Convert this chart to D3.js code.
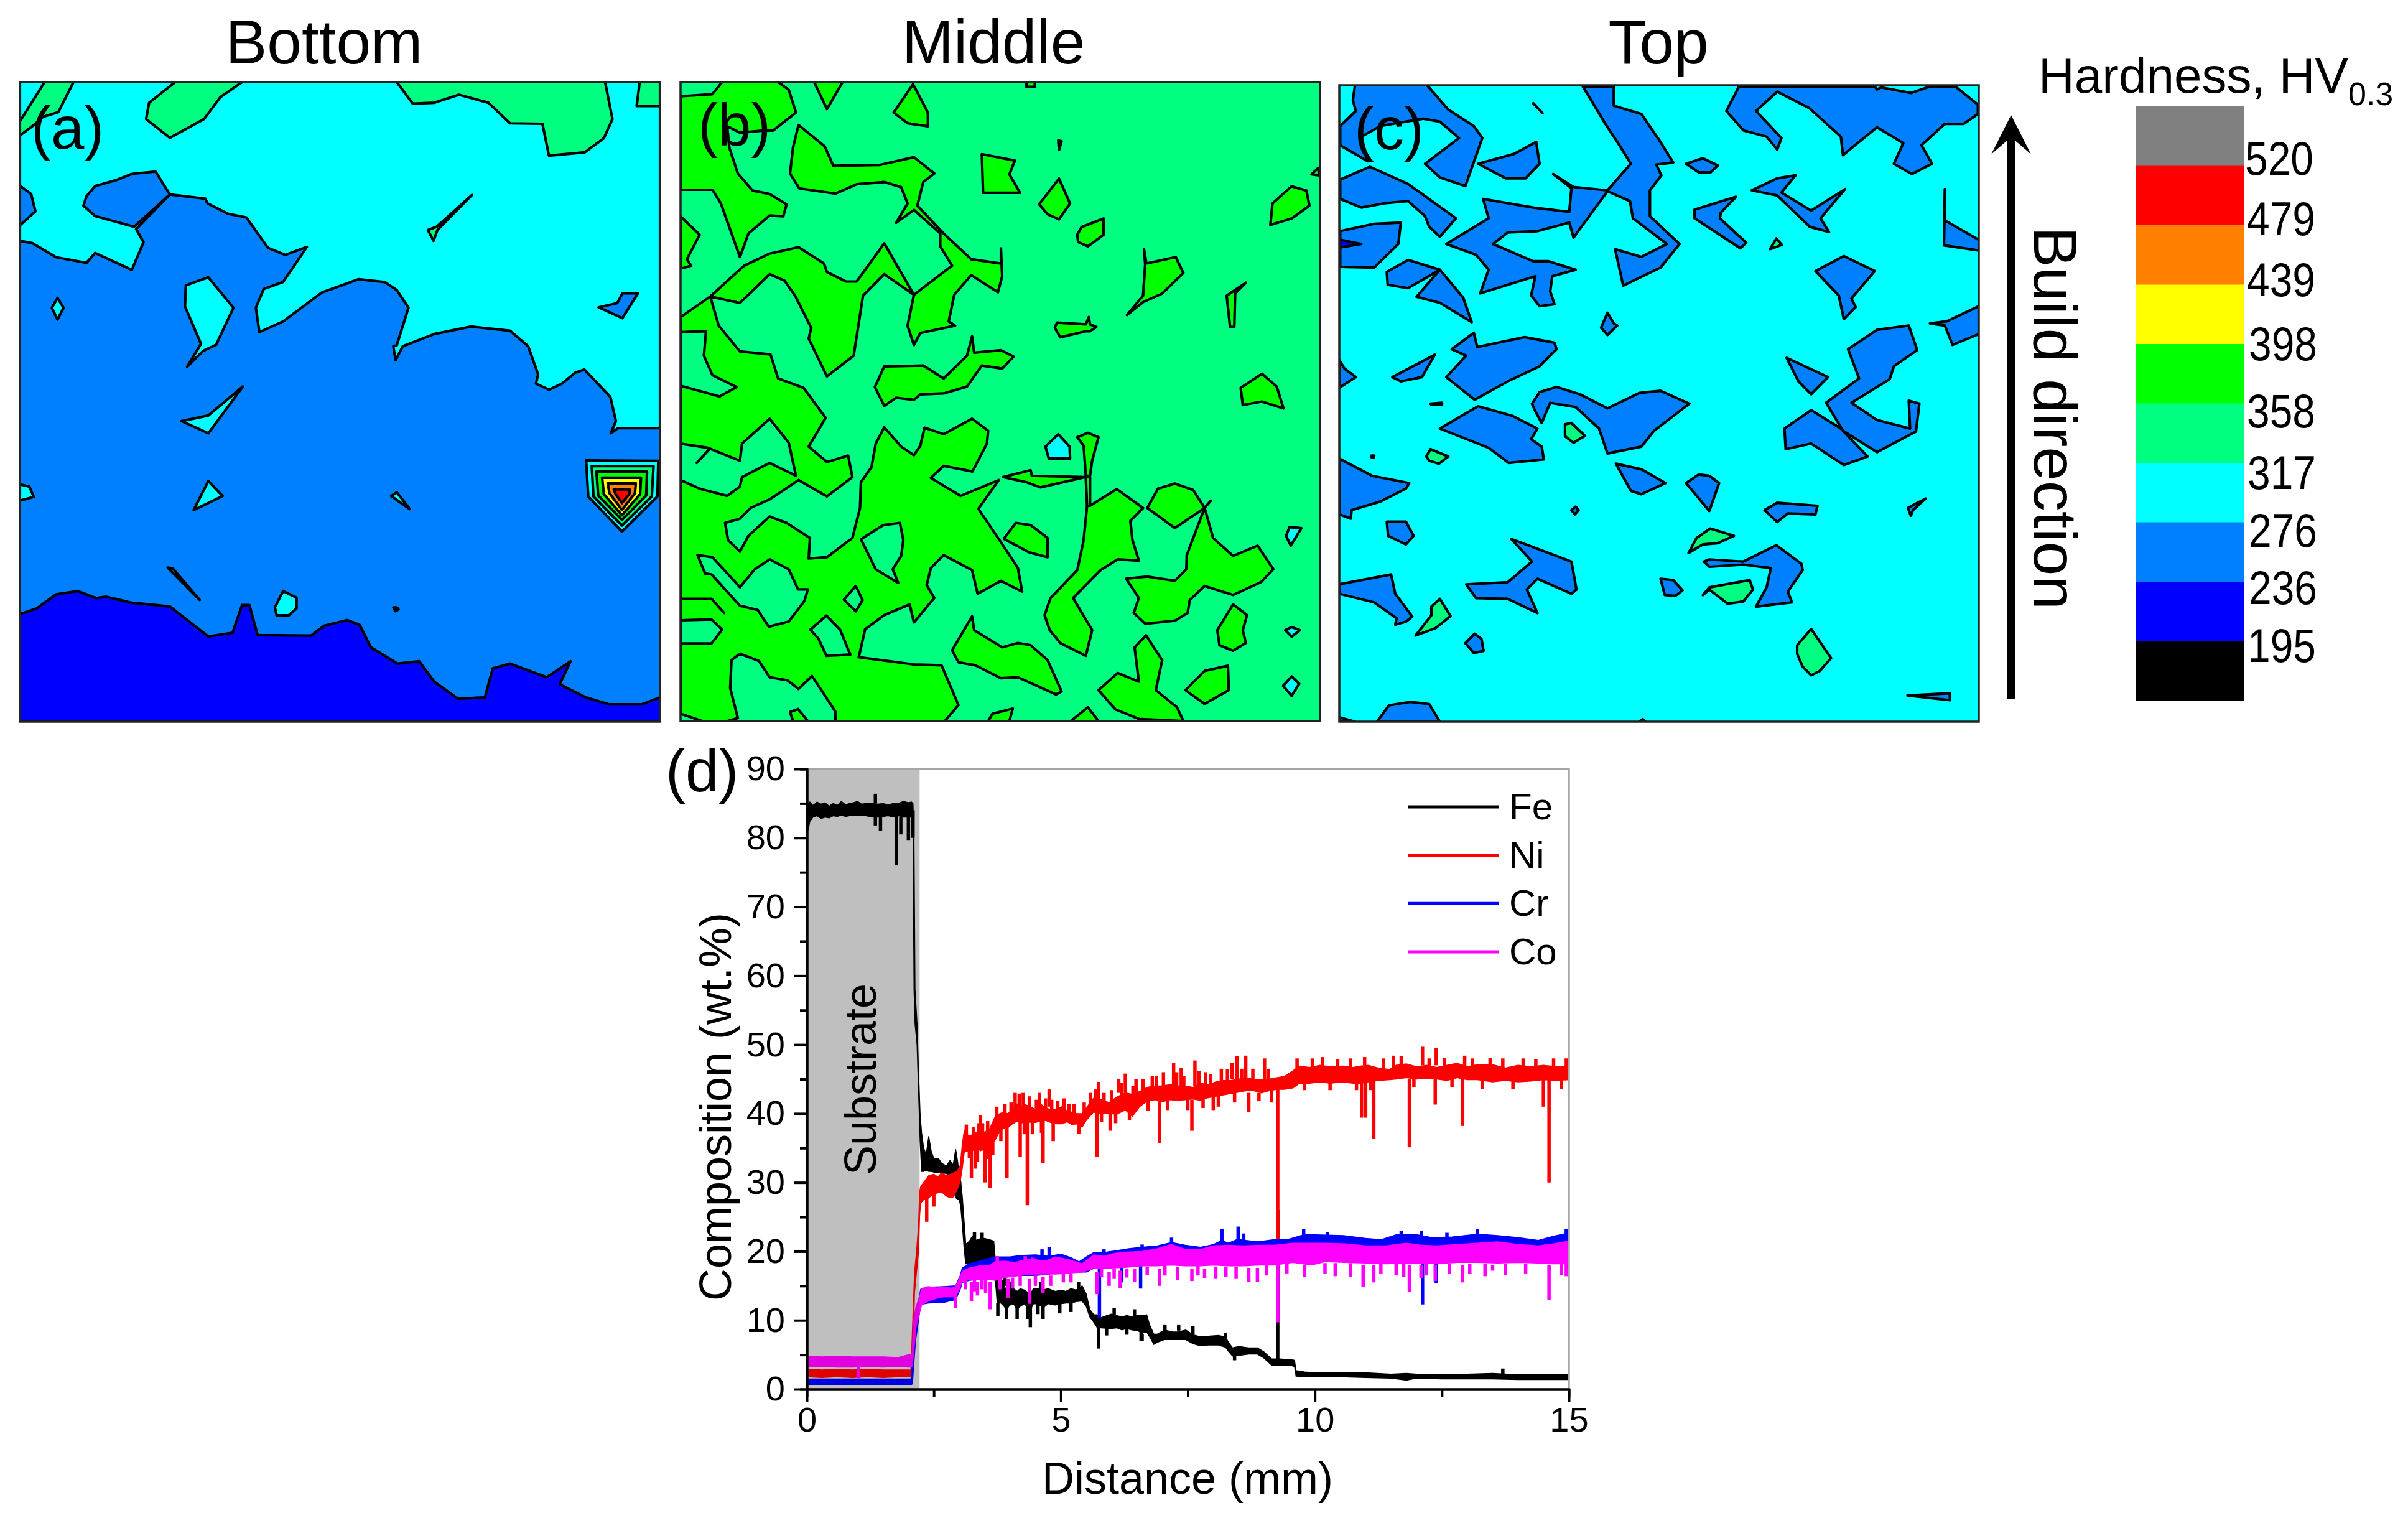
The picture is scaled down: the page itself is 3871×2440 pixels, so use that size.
<!DOCTYPE html>
<html>
<head>
<meta charset="utf-8">
<script src="https://d3js.org/d3.v7.min.js"></script>
<style>
  body { margin: 0; background: #fff; }
  svg { filter: blur(0.7px); }
  text { font-family: "Liberation Sans", Arial, sans-serif; fill: #000; }
</style>
</head>
<body>
<svg width="3871" height="2440"></svg>
<script>
// hardness colour bar
let hardnessLabels = [520, 479, 439, 398, 358, 317, 276, 236, 195];
let hardnessColors = ["#000000", "#0000ff", "#0080ff", "#00ffff", "#00ff80", "#00ff00", "#ffff00", "#ff8000", "#ff0000", "#808080"];

let bottomGridX = [46, 1527], bottomGridY = [176, 1542];
let bottomBase = 236;
let bottomRegions = [
    [276, [[46,515],[75,520],[130,550],[200,562],[220,541],[305,577],[332,518],[315,490],[393,416],[475,425],[480,435],[527,457],[570,465],[620,530],[660,545],[710,528],[655,603],[610,618],[592,658],[600,710],[655,687],[745,625],[830,597],[890,603],[918,620],[945,658],[918,738],[910,740],[915,770],[932,740],[1005,714],[1090,698],[1180,707],[1222,740],[1245,800],[1240,820],[1270,833],[1300,820],[1330,797],[1352,790],[1412,848],[1425,900],[1413,926],[1430,915],[1527,915],[1527,176],[46,176]]],
    [236, [[46,397],[72,415],[82,452],[46,482]]],
    [236, [[393,416],[360,367],[305,372],[270,385],[220,398],[200,420],[193,440],[220,462],[310,485]]],
    [236, [[1385,657],[1428,648],[1440,627],[1476,627],[1440,680]]],
    [317, [[1092,417],[1010,485],[990,492],[1003,515],[1012,492]]],
    [317, [[46,260],[103,176],[170,176],[135,240],[100,250],[75,270],[46,290]]],
    [317, [[405,176],[345,220],[338,255],[393,295],[472,255],[510,208],[560,176]]],
    [317, [[918,176],[955,222],[1005,220],[1062,203],[1130,220],[1180,264],[1255,265],[1270,333],[1353,326],[1397,296],[1417,255],[1400,176]]],
    [317, [[1480,176],[1473,227],[1527,227],[1527,176]]],
    [276, [[120,658],[133,637],[147,658],[133,683]]],
    [276, [[430,610],[482,593],[540,658],[500,737],[470,750],[433,784],[465,735],[428,655]]],
    [276, [[562,826],[482,888],[420,900],[482,926]]],
    [276, [[46,1035],[68,1040],[78,1062],[46,1070]]],
    [276, [[482,1028],[515,1060],[448,1090]]],
    [276, [[905,1060],[918,1052],[948,1088]]],
    [276, [[388,1213],[400,1215],[462,1282]]],
    [276, [[655,1263],[686,1277],[686,1300],[668,1315],[640,1315],[636,1298]]],
    [276, [[910,1298],[918,1298],[922,1302],[915,1306]]],
    [195, [[46,1312],[85,1300],[130,1270],[180,1263],[222,1278],[245,1275],[305,1288],[393,1296],[482,1360],[538,1352],[560,1293],[577,1293],[596,1357],[720,1358],[750,1337],[803,1325],[832,1335],[858,1383],[920,1418],[970,1413],[1005,1457],[1060,1493],[1122,1490],[1140,1428],[1180,1418],[1265,1447],[1320,1413],[1295,1462],[1355,1490],[1410,1505],[1485,1505],[1527,1490],[1527,1542],[46,1542]]],
    // the hard spot at the right edge
    [276, [[1356,984],[1523,985],[1521,1061],[1439,1136],[1361,1061]]],
    [317, [[1369,996],[1512,996],[1508,1061],[1439,1123],[1373,1061]]],
    [358, [[1380,1008],[1497,1008],[1495,1059],[1439,1111],[1384,1059]]],
    [398, [[1393,1021],[1483,1021],[1481,1056],[1439,1101],[1397,1056]]],
    [439, [[1406,1033],[1471,1033],[1469,1054],[1439,1090],[1410,1054]]],
    [479, [[1420,1046],[1457,1046],[1456,1056],[1439,1075],[1424,1056]]]
];

let middleGridX = [20, 1527], middleGridY = [47, 1537];
let middleBase = 317;
let middleRegions = [
    [358, [[20,595],[90,547],[170,475],[230,447],[298,432],[358,470],[365,490],[410,512],[435,512],[500,423],[570,543],[500,495],[450,545],[428,685],[365,733],[322,645],[328,620],[290,545],[265,510],[230,495],[160,562],[90,547],[110,615],[160,675],[232,682],[250,738],[310,760],[362,830],[322,897],[365,933],[415,918],[425,968],[365,1013],[298,975],[230,1020],[185,1040],[160,1065],[125,1075],[132,1115],[160,1142],[180,1105],[230,1060],[270,1075],[325,1110],[322,1158],[365,1155],[425,1110],[443,1040],[445,980],[470,945],[480,890],[500,852],[540,897],[570,917],[585,895],[595,853],[640,868],[707,832],[745,860],[742,890],[708,955],[640,942],[610,970],[680,1012],[770,975],[722,1042],[775,1120],[815,1180],[825,1235],[775,1210],[720,1240],[707,1185],[640,1150],[610,1180],[600,1220],[618,1250],[570,1307],[560,1265],[500,1290],[455,1323],[440,1388],[570,1405],[635,1407],[675,1500],[640,1540],[385,1540],[385,1515],[330,1432],[298,1462],[272,1442],[230,1435],[205,1397],[160,1380],[140,1395],[137,1460],[155,1530],[120,1540],[80,1540],[20,1520]]],
    [317, [[20,630],[80,628],[75,685],[95,730],[152,758],[112,780],[20,755]]],
    [317, [[20,890],[85,900],[160,930],[165,890],[230,832],[275,888],[292,965],[230,935],[165,968],[160,990],[130,1012],[65,995],[20,975]]],
    [317, [[58,935],[88,903]]],
    [317, [[60,1150],[95,1155],[160,1225],[195,1183],[230,1160],[275,1183],[297,1230],[320,1230],[312,1257],[275,1305],[228,1317],[202,1278],[160,1268],[93,1195],[78,1193]]],
    [317, [[445,1113],[498,1080],[537,1075],[545,1115],[540,1152],[520,1183],[533,1215],[480,1183]]],
    [317, [[405,1254],[433,1222],[449,1255],[433,1281]]],
    [317, [[326,1324],[364,1291],[396,1324],[420,1382],[364,1385],[345,1345]]],
    [317, [[20,1302],[93,1300],[118,1324],[93,1356],[20,1356]]],
    [358, [[20,1252],[93,1252],[123,1285],[93,1252]]],
    [358, [[278,1516],[297,1509],[320,1537],[285,1537]]],
    [358, [[745,1537],[755,1520],[803,1508],[795,1537]]],
    [358, [[940,1537],[980,1505],[1005,1537]]],
    [358, [[20,80],[95,75],[118,47],[250,47],[275,65],[292,118],[238,160],[215,160],[160,165],[130,150],[135,200],[155,260],[190,300],[230,308],[270,332],[262,360],[230,358],[180,400],[160,455],[115,330],[95,298],[20,298]]],
    [358, [[298,147],[360,197],[380,242],[490,240],[570,222],[618,260],[592,280],[578,335],[640,400],[705,460],[775,470],[775,435],[778,500],[768,537],[705,497],[665,543],[652,605],[667,615],[585,632],[570,660],[555,615],[570,543],[660,475],[632,430],[632,400],[570,345],[528,375],[555,330],[540,292],[500,280],[435,285],[385,307],[300,295],[278,260],[285,200]]],
    [358, [[20,360],[65,403],[35,460],[45,475],[20,482]]],
    [358, [[335,47],[365,110],[402,47]]],
    [358, [[522,118],[568,52],[603,118],[603,150],[555,143]]],
    [358, [[835,47],[855,47],[855,58],[835,58]]],
    [358, [[730,215],[808,230],[795,262],[820,305],[733,305]]],
    [358, [[912,272],[938,330],[912,367],[885,355],[865,332]]],
    [358, [[955,403],[965,385],[1017,365],[1017,403],[980,430],[957,420]]],
    [358, [[910,183],[918,185],[912,205]]],
    [358, [[1410,380],[1415,330],[1460,290],[1495,300],[1502,335],[1460,365]]],
    [358, [[1507,262],[1522,248],[1527,265]]],
    [358, [[1112,436],[1118,470],[1187,455],[1205,492],[1155,540],[1110,560],[1072,590],[1110,545],[1115,472]]],
    [358, [[1307,545],[1352,515],[1327,540],[1325,618],[1315,618]]],
    [358, [[902,620],[907,608],[975,612],[982,595],[985,612],[1000,618],[985,628],[975,628],[915,642]]],
    [358, [[478,758],[500,710],[592,708],[640,738],[695,685],[707,640],[712,678],[775,672],[805,687],[778,715],[730,708],[695,757],[640,773],[585,775],[570,788],[528,783],[500,802]]],
    [358, [[1340,760],[1390,727],[1425,757],[1441,808],[1390,792],[1345,800]]],
    [276, [[880,897],[910,868],[937,897],[938,925],[888,925]]],
    [358, [[955,875],[980,865],[1005,875],[990,930],[985,965],[975,965],[970,895]]],
    [358, [[780,968],[845,952],[848,965],[975,968],[868,992],[835,980]]],
    [358, [[975,968],[985,968],[985,1035],[978,1035]]],
    [358, [[985,1035],[1048,996],[1110,1040],[1080,1070],[1085,1115],[1100,1163],[1050,1160],[1010,1185],[945,1250],[990,1325],[975,1385],[915,1355],[890,1325],[878,1290],[892,1250],[955,1185],[970,1115],[978,1035]]],
    [358, [[1120,1040],[1145,995],[1185,983],[1228,998],[1255,1040],[1185,1087]]],
    [358, [[1255,1040],[1270,1023],[1255,1040]]],
    [358, [[1255,1040],[1275,1110],[1322,1152],[1380,1128],[1417,1183],[1388,1213],[1322,1243],[1255,1222],[1220,1255],[1215,1285],[1185,1303],[1115,1310],[1088,1285],[1100,1250],[1070,1205],[1120,1200],[1185,1210],[1212,1183],[1213,1150]]],
    [358, [[782,1112],[810,1075],[845,1080],[885,1110],[885,1155],[840,1143]]],
    [358, [[660,1372],[707,1293],[712,1325],[778,1365],[815,1355],[845,1360],[885,1395],[918,1468],[905,1475],[815,1435],[775,1437],[715,1407],[675,1400]]],
    [358, [[1005,1465],[1050,1425],[1100,1445],[1090,1365],[1117,1337],[1155,1395],[1140,1465],[1190,1505],[1205,1537],[1100,1532],[1045,1510]]],
    [358, [[1285,1325],[1322,1265],[1355,1290],[1345,1325],[1352,1355],[1322,1373],[1290,1360]]],
    [358, [[1210,1465],[1255,1420],[1310,1408],[1312,1465],[1255,1497]]],
    [276, [[1447,1105],[1455,1085],[1483,1087],[1458,1128]]],
    [276, [[1445,1325],[1460,1318],[1480,1325],[1460,1340]]],
    [276, [[1440,1455],[1460,1433],[1478,1450],[1460,1478]]]
];

let topGridX = [33, 1540], topGridY = [55, 1538];
let topBase = 276;
let topRegions = [
    [236, [[70,55],[240,55],[290,112],[350,150],[370,178],[330,290],[270,270],[235,238],[315,178],[270,140],[230,133],[130,150],[85,175],[100,232],[35,195],[35,150],[72,115],[65,90]]],
    [236, [[35,275],[105,245],[195,285],[308,365],[270,408],[245,385],[235,360],[195,325],[140,330],[85,340],[35,320]]],
    [236, [[35,395],[115,378],[178,375],[172,425],[115,480],[35,478]]],
    [195, [[35,415],[85,425],[35,433]]],
    [236, [[360,238],[445,215],[497,187],[505,238],[472,272],[425,272]]],
    [236, [[285,425],[385,365],[372,320],[490,340],[575,350],[580,295],[537,262],[585,292],[665,300],[720,238],[690,190],[660,145],[607,58],[680,58],[680,103],[745,122],[785,180],[820,235],[780,240],[792,265],[765,300],[765,360],[835,425],[790,480],[702,522],[683,437],[745,455],[805,425],[725,365],[718,325],[665,302],[585,410],[575,375],[500,395],[430,398],[395,425],[490,465],[525,465],[590,485],[535,500],[530,535],[540,565],[505,570],[485,545],[495,500],[365,540],[385,485],[355,450]]],
    [236, [[490,97],[512,120],[490,97]]],
    [236, [[850,238],[890,225],[925,242],[908,258],[880,258]]],
    [236, [[975,58],[945,115],[985,160],[1040,175],[1065,205],[1075,178],[1015,115],[1065,70],[1140,108],[1215,175],[1220,218],[1300,153],[1362,190],[1340,238],[1382,262],[1430,238],[1405,195],[1460,145],[1505,145],[1538,122],[1538,100],[1485,58],[1425,58],[1380,73],[1310,60],[1300,65],[1295,58]]],
    [236, [[1005,300],[1065,272],[1108,265],[1075,305],[1145,347],[1225,297],[1167,365],[1187,397],[1142,385],[1065,312]]],
    [236, [[870,345],[968,315],[932,352],[930,365],[992,422],[978,435],[870,365]]],
    [317, [[1048,437],[1063,412],[1076,427]]],
    [236, [[1460,297],[1460,370],[1540,415],[1540,440],[1458,428]]],
    [236, [[1155,488],[1222,453],[1295,488],[1240,552],[1250,572],[1222,600],[1210,545]]],
    [236, [[145,490],[195,462],[270,485],[195,528],[147,520]]],
    [236, [[270,485],[325,550],[345,607],[270,562],[215,548]]],
    [236, [[650,620],[665,585],[680,610],[688,615],[665,637]]],
    [236, [[1425,610],[1465,605],[1540,570],[1540,635],[1478,660],[1460,615]]],
    [236, [[1232,670],[1300,625],[1375,615],[1395,672],[1340,710],[1330,740],[1240,795],[1300,835],[1378,855],[1375,790],[1400,797],[1392,862],[1300,910],[1220,860],[1180,795],[1258,738]]],
    [236, [[1087,690],[1185,735],[1145,775],[1115,745]]],
    [236, [[1082,855],[1145,812],[1215,855],[1278,920],[1222,940],[1145,890],[1085,903]]],
    [236, [[298,670],[350,632],[358,665],[470,642],[540,655],[545,670],[505,710],[430,745],[352,788],[285,735],[332,685]]],
    [236, [[158,735],[258,683],[228,735],[178,745]]],
    [236, [[33,695],[45,715],[72,735],[33,760]]],
    [236, [[248,797],[275,795],[275,800],[250,800]]],
    [236, [[487,797],[505,770],[545,758],[600,775],[665,808],[740,772],[790,767],[858,797],[775,860],[745,897],[665,913],[645,855],[590,805],[530,795],[510,842],[495,815]]],
    [236, [[270,855],[360,803],[440,825],[500,855],[485,880],[510,897],[515,927],[432,935],[385,900]]],
    [317, [[565,845],[580,842],[612,872],[585,888],[565,873]]],
    [317, [[238,920],[248,903],[290,920],[268,937],[245,930]]],
    [236, [[109,918],[115,918],[115,922],[109,922]]],
    [236, [[33,925],[110,965],[198,982],[190,995],[130,1025],[62,1045],[60,1065],[33,1055]]],
    [236, [[685,937],[745,950],[802,982],[745,1008],[720,1000]]],
    [236, [[850,982],[880,962],[905,965],[928,982],[905,1047]]],
    [236, [[580,1045],[590,1037],[597,1045],[588,1055]]],
    [236, [[1035,1045],[1065,1028],[1160,1035],[1155,1055],[1090,1053],[1065,1073]]],
    [236, [[1415,1018],[1373,1040],[1380,1058],[1385,1045]]],
    [236, [[145,1072],[190,1072],[208,1105],[190,1125],[148,1105]]],
    [236, [[438,1112],[580,1165],[592,1230],[580,1240],[500,1205],[475,1230],[500,1285],[430,1252],[355,1250],[332,1218],[430,1213],[487,1165]]],
    [317, [[856,1145],[875,1110],[907,1088],[963,1105],[925,1122],[890,1125]]],
    [236, [[892,1165],[905,1160],[985,1165],[1063,1127],[1122,1170],[1125,1185],[1090,1235],[1100,1260],[1015,1270],[1040,1225],[1050,1180],[985,1172],[905,1177]]],
    [317, [[890,1243],[905,1225],[1000,1208],[1008,1230],[985,1258],[948,1263],[905,1230]]],
    [236, [[790,1205],[820,1208],[842,1232],[825,1245],[800,1243]]],
    [236, [[33,1218],[155,1195],[165,1240],[205,1293],[190,1305],[165,1312],[168,1297],[115,1260],[33,1240]]],
    [317, [[213,1337],[250,1290],[250,1270],[270,1252],[295,1292],[260,1320]]],
    [236, [[330,1355],[352,1333],[368,1345],[373,1373],[350,1378]]],
    [317, [[1112,1360],[1145,1322],[1192,1390],[1165,1420],[1145,1430],[1125,1410],[1112,1380]]],
    [236, [[1372,1477],[1472,1472],[1472,1488]]],
    [236, [[122,1538],[150,1500],[200,1492],[245,1497],[270,1538]]],
    [236, [[33,1528],[70,1538],[33,1538]]],
    [236, [[740,1538],[748,1532],[755,1538]]]
];

// composition profile, band rows are [distance, low, high], spikes are [distance, from, to]
let seriesNames = ["Fe", "Ni", "Cr", "Co"];
let seriesColors = ["#000000", "#ff0000", "#0000ff", "#ff00ff"];
let xTicks = [0, 5, 10, 15];
let yTicks = [0, 10, 20, 30, 40, 50, 60, 70, 80, 90];

let feBand = [[0,81.2,84.8],[.03,81.2,85],[.06,82.4,85.2],[.12,83,84.7],[.2,83.2,85.2],[.28,82.8,84.9],[.36,83,85.1],[.44,82.9,84.6],[.52,83.2,85],[.6,83.1,84.7],[.68,83.3,85.3],[.76,83.1,84.8],[.84,83.2,85],[.92,83.3,85.1],[1,83.3,85.3],[1.08,83.2,84.9],[1.16,83.2,85],[1.24,83.1,85],[1.32,83,85],[1.4,83,84.9],[1.5,83.1,85],[1.6,83.2,84.8],[1.7,83,85],[1.8,83.2,85],[1.9,83,85.3],[2,83,85.1],[2.06,83,85.2],[2.09,81,85],[2.11,58,80],[2.13,53,58],[2.17,50,53],[2.2,43,46],[2.23,36,40],[2.26,31.6,37.2],[2.3,31.6,35],[2.35,31.8,34],[2.4,31.6,36.7],[2.45,31.6,34.5],[2.5,31.5,33.5],[2.6,31.4,33.4],[2.65,31.4,32.8],[2.75,31.3,32.4],[2.82,31,33.2],[2.88,30,32.5],[2.93,27.8,34.8],[2.97,27.5,33],[3,27.5,31],[3.03,26.5,30.2],[3.06,24,28],[3.08,22,26],[3.1,20,24],[3.13,18.2,21],[3.2,18.1,21.5],[3.26,17.8,22.2],[3.32,17.8,21.6],[3.4,17.8,21.8],[3.5,17.7,21.9],[3.6,17.8,21.7],[3.68,17,21.5],[3.72,15,18],[3.75,12.3,16],[3.8,12.6,15.4],[3.85,12.3,15.8],[3.93,11.6,14.2],[4,12.2,15.6],[4.07,12.4,14.6],[4.14,11.6,14.2],[4.2,12,14.6],[4.28,12.4,14.4],[4.4,11.5,13.8],[4.46,12.4,14.6],[4.55,12.4,14.6],[4.65,11.8,14.4],[4.75,12.4,14.6],[4.89,12.2,14.2],[5,12.4,14.4],[5.1,12.5,14.2],[5.2,12.5,14.6],[5.3,12.7,14.4],[5.42,12.8,15],[5.5,12,13.8],[5.57,10.5,11.6],[5.65,9.7,10.8],[5.71,9,10.8],[5.8,8.9,10.4],[5.99,8.8,10.9],[6.1,8.9,10.7],[6.2,8.6,10.5],[6.3,8.8,10.7],[6.4,8.6,10.5],[6.5,8.5,10.7],[6.6,8.2,10.7],[6.69,8.3,10.8],[6.75,7.6,9.3],[6.83,6.5,8],[6.9,6.8,8],[7.04,7.2,8.6],[7.2,7.2,8.3],[7.3,7.2,8.3],[7.46,7.2,8.6],[7.6,6.6,7.9],[7.75,6.3,7.6],[7.9,6.4,7.7],[8.1,6.4,7.8],[8.24,6.1,7.6],[8.3,5.5,6.8],[8.38,4.8,6],[8.5,4.9,6.2],[8.7,5.1,6],[8.87,5.1,6],[9,4.5,5.4],[9.15,3.5,4.4],[9.3,3.5,4.4],[9.5,3.5,4.3],[9.6,3.3,4.2],[9.63,1.9,2.7],[9.8,1.8,2.5],[10,1.8,2.4],[10.5,1.8,2.4],[11,1.7,2.4],[11.5,1.6,2.2],[11.8,1.3,2.3],[12,1.6,2.2],[12.5,1.5,2.1],[13,1.5,2.2],[13.5,1.5,2.3],[14,1.4,2.1],[14.5,1.4,2.1],[15,1.4,2.1]];
let feSpikes = [[1.35,86.4,85],[1.35,81.8,83.5],[1.45,81,83.5],[1.76,76,83.5],[1.85,80.5,83],[2,79.6,83],[2.09,80,84],[5.74,5.9,9],[6.6,7,8],[9.27,3.5,26],[13.7,2.2,3],
    [3.3,22.8,21],[3.45,22.7,21],[3.62,17.3,18.5],[3.76,10.6,12.5],[3.9,16.6,15],[3.93,10.2,12],[4.14,10.2,12],[4.35,10.2,12],[4.4,9,12],[4.55,10.9,12.5],[4.6,15.6,14.5],[4.65,10.2,12],[4.98,11,12.5],[5.2,11.2,12.5],[5.35,15.6,14.5],[5.9,7.8,9],[6.05,11.8,10.5],[6.3,7.9,9],[6.45,11.6,10.5],[6.58,7,8.5],[7.05,9.4,8.5],[7.32,9.4,8.5],[7.6,9.2,8],[8.24,8.2,7.5],[8.42,4.2,5.2]];

let niBand = [[0,1.8,2.9],[.3,1.7,2.8],[.6,1.8,2.9],[.9,1.7,2.8],[1.2,1.8,2.9],[1.5,1.7,2.8],[1.8,1.8,2.8],[2.05,1.8,2.8],[2.08,2.5,9],[2.1,8,13],[2.12,14,17],[2.16,17,20],[2.2,20,24],[2.22,25,28.6],[2.24,27,29.4],[2.3,27.5,30],[2.36,27.5,30.6],[2.4,27.8,31],[2.5,28.3,31.2],[2.58,28.5,30.8],[2.65,28.6,31.4],[2.75,28,31],[2.82,27.8,31.2],[2.89,27.9,31.4],[2.96,29,31.6],[3.02,30.2,32.5],[3.06,32,35.5],[3.1,34.4,37.6],[3.18,34.6,36.8],[3.26,34.6,36.9],[3.34,35,37.3],[3.42,34.6,37.5],[3.5,34.8,37.3],[3.6,35,37.8],[3.71,36.2,39.6],[3.8,37.5,40],[3.87,37.8,40.2],[3.95,37.9,40],[4.05,38.5,40.4],[4.14,38.9,41.4],[4.22,38.6,41],[4.3,38.9,41.3],[4.4,38.7,41],[4.5,38.7,40.6],[4.6,38.9,41.4],[4.7,39,40.8],[4.8,38.7,40.6],[4.9,38.5,40.6],[5.02,38.5,41],[5.12,38.8,40.4],[5.22,38.4,40.2],[5.32,38.5,40],[5.42,38,40],[5.5,39,40.8],[5.64,40.2,42.2],[5.8,40,42],[5.95,40,41.6],[6.1,39.9,42.4],[6.27,40.5,43],[6.41,39.6,42.8],[6.55,41,43.2],[6.7,41.8,43.8],[6.85,42,44],[7,41.7,44],[7.15,42,44.2],[7.3,41.9,44],[7.45,42,44],[7.6,42.1,43.8],[7.75,41.9,44.4],[7.9,42.3,44.2],[8.05,42.5,44.6],[8.2,42.7,44.8],[8.35,42.9,44.8],[8.5,43.1,45],[8.65,43.3,45.2],[8.8,43.3,45],[8.95,43,44.9],[9.1,43.3,45],[9.25,43.5,45.2],[9.4,43.5,45.4],[9.57,43.7,46.2],[9.7,44.4,46.9],[9.9,44.4,46.7],[10.1,44.6,47],[10.3,44.4,46.8],[10.56,44.6,46.9],[10.75,44.4,46.7],[10.9,44.4,46.9],[11.05,44.6,47],[11.25,44.8,46.6],[11.47,44.9,46.4],[11.6,45,47],[11.8,45.2,47.2],[12,45,46.8],[12.2,45.1,47],[12.4,45,46.7],[12.6,44.8,47],[12.8,45.2,47.3],[13,44.9,46.8],[13.2,44.9,47.1],[13.5,44.6,47.1],[13.75,44.8,46.6],[14,44.6,47],[14.25,44.7,46.8],[14.5,44.9,47],[14.75,44.8,46.8],[15,44.9,46.9]];
let niSpikes = [[2.36,24.3,29],[2.5,26.5,29],[3.24,30.6,36],[3.32,32,36],[3.42,39.8,37],[3.51,30,36],[3.61,29.2,36],[3.94,30.6,38],[4.2,33.7,39],[4.34,26.7,39],[4.65,32.8,39],[4.77,43.5,41],[4.85,36,39],[5.71,33.7,41],[5.74,44.6,42],[5.97,37.5,41],[6.27,45.8,43],[6.14,45,43],[6.94,35.7,42],[7.22,47.3,44],[7.37,46.6,44],[7.58,37.5,42],[7.64,47.7,44],[7.85,46,44],[8,40.5,43],[8.16,46.5,44],[8.37,47.3,45],[8.47,48.3,45],[8.64,48.4,45],[8.7,40.2,43],[9.01,48,45],[9.15,41.6,44],[9.27,20,44],[10.98,48.2,47],[10.92,39.4,45],[11,39.4,45],[11.16,36.3,45],[11.86,35.1,45],[12.12,49.7,47],[12.39,49.5,47],[12.37,41.3,45],[12.91,38.2,45],[14.5,41,45],[14.61,30,45],
    [3.14,38.4,36],[3.2,33.5,35],[3.28,38,36],[3.36,33,35],[3.38,38.6,36],[3.46,38.6,36],[3.56,38.9,36],[3.56,33.4,35],[3.66,34,36],[3.74,41,38],[3.82,36,38],[3.9,41.4,39],[4.02,41.6,39],[4.1,43,40],[4.18,42.9,40],[4.26,43,40],[4.28,37,39],[4.38,42.5,40],[4.44,37,39],[4.52,42,40],[4.58,43,40],[4.62,37.2,39],[4.7,42.2,40],[4.82,42,40],[4.94,41.8,40],[5.06,42.2,40],[5.16,41.4,39.5],[5.26,41.4,39.5],[5.36,37,39],[5.46,41.6,39.5],[5.58,43,41],[5.68,43.5,41],[5.8,38.8,40.5],[5.85,43,41],[6,43.4,41],[6.08,38.6,40.5],[6.2,44.5,42],[6.35,39,41],[6.42,44,42],[6.48,45,43],[6.62,45,43],[6.72,40.4,42],[6.8,45.5,43],[6.88,45.5,43],[7.02,46,44],[7.1,40.5,42.5],[7.28,46,44],[7.42,45.5,44],[7.5,40.5,42.5],[7.72,46.2,44],[7.8,40.8,42.5],[7.95,45.7,44],[8.1,41,43],[8.28,46.4,44],[8.42,41.6,43],[8.56,46.5,45],[8.78,46.5,45],[8.9,41.8,43],[9.08,46.5,45],[9.65,48,46],[9.8,43.4,45],[9.95,48,46],[10.15,48.2,46],[10.3,43.4,45],[10.45,47.9,46],[10.7,48,46],[10.82,43.4,45],[11.1,43.4,45],[11.35,48,46],[11.55,48.4,46.5],[11.7,48.3,46.5],[11.95,43.8,45],[12.25,48,46],[12.55,48.1,46],[12.7,43.8,45],[12.95,48.4,46],[13.1,48,46],[13.3,43.6,45],[13.45,48.1,46],[13.7,48,46],[13.9,43.5,45],[14.1,48,46],[14.35,47.9,46],[14.7,48,46],[14.85,43.6,45],[14.95,48,46]];

let crBand = [[0,.6,1.5],[.5,.6,1.5],[1,.6,1.5],[1.5,.6,1.5],[2.05,.6,1.5],[2.08,.8,4],[2.1,3,8],[2.14,7,10],[2.18,9,12],[2.24,12.3,14.5],[2.4,12.5,14.8],[2.7,12.6,14.9],[2.93,13,15],[3.02,14.5,16.5],[3.06,15.5,17.6],[3.2,15.8,18.2],[3.5,16,18.8],[3.71,16.5,19.2],[4,16.5,19.2],[4.2,16.5,19.4],[4.5,16.5,19.5],[4.77,16.7,19.3],[5,17,19.6],[5.2,17,19.1],[5.36,17,18.5],[5.5,17,19.2],[5.64,17.5,19.8],[5.9,18,19.9],[6.1,18,20.1],[6.34,18.3,20.4],[6.6,18.5,20.6],[6.9,18.5,20.8],[7.18,18.8,21.3],[7.45,18.8,20.9],[7.75,18.8,20.6],[8,18.8,21],[8.17,18.8,21.6],[8.3,18.8,21.2],[8.49,19,21.8],[8.65,19,21.6],[8.87,19,21.4],[9.2,19,21.7],[9.5,19.5,21.8],[9.78,20,22.4],[10,20,22.4],[10.56,20,22.3],[11,20,21.9],[11.3,20,21.7],[11.6,20,22.4],[11.96,20,22.5],[12.3,20,22],[12.7,20,22.1],[13.2,20,22.5],[13.6,20,22.3],[14,20,22],[14.4,20,21.6],[14.7,20,22.2],[14.95,20,22.6],[15,20,22.5]];
let crSpikes = [[5.76,10.3,18],[6.2,15.5,18],[6.57,14.6,18],[12.12,12.3,19],[12.39,15.4,19],
    [4.63,20.3,18.8],[4.77,20.6,18.8],[5.85,20.3,19],[6.6,21,20],[7.18,22,21],[8.17,23.2,21],[8.49,23.6,21.5],[8.6,22.6,21],[9.78,23.2,22],[10.25,22.8,22],[11.7,23,22],[12.1,23,22],[12.6,22.7,22],[13.2,23.2,22],[14.95,23.2,22.5]];

let coBand = [[0,3.2,4.8],[.3,3.3,4.7],[.6,3.2,4.8],[.9,3.2,4.7],[1.2,3.3,4.7],[1.5,3.2,4.7],[1.8,3.3,4.6],[2,3.2,5],[2.07,3.2,5],[2.1,5,10],[2.15,9,12],[2.2,10.5,13],[2.26,12.2,14.5],[2.32,12.5,14.8],[2.4,12.8,14.9],[2.55,13.2,14.7],[2.7,13.4,14.8],[2.85,13.4,14.7],[2.93,13.4,14.9],[3,14.5,16],[3.06,15.6,17.1],[3.2,15.9,17.6],[3.4,15.9,17.9],[3.6,15.9,18],[3.71,15.8,18.5],[3.9,16.2,18.6],[4.1,16.4,18.4],[4.3,16.6,18.8],[4.5,16.7,18.8],[4.7,16.7,18.6],[4.89,16.7,19.2],[5.1,16.8,18.9],[5.25,16.9,18.6],[5.42,17,18.2],[5.55,17.3,18.9],[5.64,17.5,19.5],[5.85,17.5,19.3],[6.05,17.6,19.7],[6.3,17.7,19.9],[6.6,17.9,20],[6.9,17.9,20.4],[7.18,18,21],[7.45,17.9,20.3],[7.75,17.9,20.3],[8,18,20.8],[8.3,17.9,20.9],[8.6,17.9,20.8],[8.9,18,20.9],[9.2,18,20.9],[9.57,18.4,21.2],[9.93,18,21.2],[10.2,18.5,21.2],[10.6,18.4,21.1],[11,18.3,20.8],[11.4,18.2,20.8],[11.8,18.3,21.2],[12.1,18.3,20.9],[12.4,18.2,20.8],[12.8,18.4,21],[13.2,18.4,21.2],[13.6,18.3,21.4],[14,18.4,21],[14.4,18.3,20.8],[14.7,18.2,21.1],[15,18.2,21.5]];
let coSpikes = [[1.02,1.6,3.5],[2.93,11.8,13.5],[3.24,12.8,15.6],[3.36,13.6,15.6],[3.61,11.6,15.6],[3.96,13.2,16],[4.38,12.4,16],[4.65,14,16.3],[5.71,13.8,17],[5.95,15,17],[6.17,14.7,17.2],[6.94,15,17.5],[7.58,15.7,17.5],[7.83,16.1,17.5],[8.7,15.6,17.6],[8.87,15.6,17.6],[9.27,9.7,20],[10.95,14.9,18],[11.16,15.5,18],[11.86,14.1,18],[12.09,16.1,18],[12.37,15.7,18],[12.91,15.5,18],[13.5,17.2,18],[14.61,13,18],
    [3.12,14.5,16],[3.3,14.2,16],[3.45,14.5,16],[3.52,14,16],[3.8,14.5,16],[4.05,14.6,16.2],[4.2,15,16.5],[4.5,15,16.5],[4.8,15,16.5],[5.05,15.5,17],[5.2,15.5,16.8],[5.8,16.3,17.5],[6.05,16,17.5],[6.3,16.2,17.5],[6.45,15.6,17.5],[6.7,16.6,17.7],[7.05,16.5,18],[7.3,15.8,17.7],[7.7,16.5,18],[8.05,16,17.8],[8.25,16.3,17.8],[8.45,16,17.8],[9.05,16.5,18],[9.45,16.8,18.2],[9.8,16.3,18],[10.2,16.8,18.3],[10.4,16.4,18.3],[10.7,16.3,18.3],[11.3,16.8,18.3],[11.6,16.6,18.3],[11.75,16.3,18.2],[12.2,16.5,18.2],[12.65,16.7,18.2],[13.05,16.7,18.2],[13.35,16.4,18.2],[13.75,16.6,18.2],[14.15,16.8,18.2],[14.85,16.6,18.2],[14.95,16.4,18.2],[3.75,19.3,18],[4.3,19.3,18.2],[4.45,19.1,18.2]];
let seriesBands = [feBand, niBand, crBand, coBand];
let seriesSpikes = [feSpikes, niSpikes, crSpikes, coSpikes];

let substrateEnd = 2.22;

let svg = d3.select("svg");

// colour for a level, lower bound of each band on the bar
let levelColor = d3.scaleThreshold()
    .domain(hardnessLabels.slice().reverse())
    .range(hardnessColors);

function drawMap(name, regions, base, gridX, gridY, frame) {
    let xScale = d3.scaleLinear().domain(gridX).range([frame.x0, frame.x1]);
    let yScale = d3.scaleLinear().domain(gridY).range([frame.y0, frame.y1]);
    let outline = d3.line().x(d => xScale(d[0])).y(d => yScale(d[1]));

    svg.append("clipPath").attr("id", "clip-" + name)
        .append("rect")
        .attr("x", frame.x0).attr("y", frame.y0)
        .attr("width", frame.x1 - frame.x0).attr("height", frame.y1 - frame.y0);

    let g = svg.append("g");
    g.append("rect")
        .attr("x", frame.x0).attr("y", frame.y0)
        .attr("width", frame.x1 - frame.x0).attr("height", frame.y1 - frame.y0)
        .style("fill", levelColor(base));

    g.append("g").attr("clip-path", "url(#clip-" + name + ")")
        .selectAll("path").data(regions).enter().append("path")
        .attr("d", d => outline(d[1]) + "Z")
        .style("fill", d => levelColor(d[0]))
        .style("stroke", "#000")
        .style("stroke-width", 4.2)
        .style("stroke-linejoin", "round");

    g.append("rect")
        .attr("x", frame.x0).attr("y", frame.y0)
        .attr("width", frame.x1 - frame.x0).attr("height", frame.y1 - frame.y0)
        .style("fill", "none")
        .style("stroke", "#222")
        .style("stroke-width", 3.5);
}

drawMap("a", bottomRegions, bottomBase, bottomGridX, bottomGridY, { x0: 32, x1: 1061, y0: 132, y1: 1160 });
drawMap("b", middleRegions, middleBase, middleGridX, middleGridY, { x0: 1094, x1: 2122, y0: 132, y1: 1159 });
drawMap("c", topRegions, topBase, topGridX, topGridY, { x0: 2153, x1: 3181, y0: 137, y1: 1160 });

// titles and panel letters
[["Bottom", 521], ["Middle", 1597], ["Top", 2666]].forEach(t => {
    svg.append("text")
        .attr("x", t[1]).attr("y", 102)
        .style("text-anchor", "middle")
        .style("font-size", "100px")
        .text(t[0]);
});
[["(a)", 50, 239], ["(b)", 1122, 234], ["(c)", 2177, 240], ["(d)", 1070, 1272]].forEach(t => {
    svg.append("text")
        .attr("x", t[1]).attr("y", t[2])
        .style("font-size", "96px")
        .text(t[0]);
});

// colour bar
let barScale = d3.scaleBand()
    .domain(d3.range(hardnessColors.length))
    .range([171, 1126]);
svg.append("g").selectAll("rect")
    .data(hardnessColors.slice().reverse())
    .enter().append("rect")
    .attr("x", 3434)
    .attr("y", (d, i) => barScale(i))
    .attr("width", 174)
    .attr("height", barScale.bandwidth() + 0.5)
    .style("fill", d => d);

let barLabelX = [3609, 3612, 3612, 3615, 3612, 3613, 3615, 3615, 3613];
let barLabelY = [281, 378, 476, 579, 687, 786, 879, 971, 1064];
svg.append("g").selectAll("text")
    .data(hardnessLabels)
    .enter().append("text")
    .attr("x", (d, i) => barLabelX[i])
    .attr("y", (d, i) => barLabelY[i])
    .attr("textLength", 110)
    .attr("lengthAdjust", "spacingAndGlyphs")
    .style("font-size", "76px")
    .text(d => d);

let barTitle = svg.append("text")
    .attr("x", 3277).attr("y", 149)
    .style("font-size", "80px");
barTitle.append("tspan").text("Hardness, HV");
barTitle.append("tspan")
    .attr("dy", 20)
    .style("font-size", "52px")
    .text("0.3");

// build direction arrow
svg.append("path")
    .attr("d", "M3226.5,1124V226L3201,248L3233,185L3265,248L3239.5,226V1124Z")
    .style("fill", "#000");
svg.append("text")
    .attr("transform", "translate(3270,672) rotate(90)")
    .style("text-anchor", "middle")
    .style("font-size", "98px")
    .text("Build direction");

// composition chart
let plot = { left: 1297, right: 2522, top: 1236, bottom: 2233 };
let xScale = d3.scaleLinear().domain([0, 15]).range([plot.left, plot.right]);
let yScale = d3.scaleLinear().domain([0, 90]).range([plot.bottom, plot.top]);

let chart = svg.append("g");

chart.append("rect")
    .attr("x", xScale(0))
    .attr("y", yScale(90))
    .attr("width", xScale(substrateEnd) - xScale(0))
    .attr("height", yScale(0) - yScale(90))
    .style("fill", "#dadada");

svg.append("clipPath").attr("id", "clip-plot")
    .append("rect")
    .attr("x", plot.left - 2).attr("y", plot.top)
    .attr("width", plot.right - plot.left + 2).attr("height", plot.bottom - plot.top);

let bandArea = d3.area()
    .x(d => xScale(d[0]))
    .y0(d => yScale(d[1]))
    .y1(d => yScale(d[2]));

let lines = chart.append("g").attr("clip-path", "url(#clip-plot)");
seriesNames.forEach((name, i) => {
    lines.append("path")
        .attr("d", bandArea(seriesBands[i]))
        .style("fill", seriesColors[i])
        .style("stroke", seriesColors[i])
        .style("stroke-width", 1.5);
    lines.selectAll(".spike-" + name)
        .data(seriesSpikes[i])
        .enter().append("line")
        .attr("class", "spike-" + name)
        .attr("x1", d => xScale(d[0]))
        .attr("x2", d => xScale(d[0]))
        .attr("y1", d => yScale(d[1]))
        .attr("y2", d => yScale(d[2]))
        .style("stroke", seriesColors[i])
        .style("stroke-width", 5.5);
});

// the grey block lies over the curves and dulls them a little
chart.append("rect")
    .attr("x", xScale(0))
    .attr("y", yScale(90))
    .attr("width", xScale(substrateEnd) - xScale(0))
    .attr("height", yScale(0) - yScale(90))
    .style("fill", "#000")
    .style("opacity", 0.12);

// grey top and right frame
chart.append("path")
    .attr("d", "M" + xScale(0) + "," + yScale(90) + "H" + xScale(15) + "V" + yScale(0))
    .style("fill", "none")
    .style("stroke", "#a6a6a6")
    .style("stroke-width", 3.5);

let xMinor = d3.axisBottom(xScale).tickValues([2.5, 7.5, 12.5]).tickSize(12).tickFormat("");
let yMinor = d3.axisLeft(yScale).tickValues(d3.range(5, 90, 10)).tickSize(11).tickFormat("");
let xAxis = d3.axisBottom(xScale).tickValues(xTicks).tickSize(20).tickSizeOuter(0).tickPadding(8);
let yAxis = d3.axisLeft(yScale).tickValues(yTicks).tickSize(20).tickSizeOuter(0).tickPadding(15);

[
    chart.append("g").attr("transform", "translate(0," + plot.bottom + ")").call(xMinor),
    chart.append("g").attr("transform", "translate(" + plot.left + ",0)").call(yMinor),
    chart.append("g").attr("transform", "translate(0," + plot.bottom + ")").call(xAxis),
    chart.append("g").attr("transform", "translate(" + plot.left + ",0)").call(yAxis)
].forEach(a => {
    a.selectAll("path, line").style("stroke", "#000").style("stroke-width", 4);
    a.selectAll("text").style("font-size", "56px").style("font-family", "Liberation Sans");
});

chart.append("text")
    .attr("x", 1909).attr("y", 2401)
    .style("text-anchor", "middle")
    .style("font-size", "72px")
    .text("Distance (mm)");

chart.append("text")
    .attr("transform", "translate(1175,1779) rotate(-90)")
    .style("text-anchor", "middle")
    .style("font-size", "72px")
    .text("Composition (wt.%)");

chart.append("text")
    .attr("transform", "translate(1408,1735) rotate(-90)")
    .style("text-anchor", "middle")
    .style("font-size", "72px")
    .text("Substrate");

// legend
let legendY = d3.scalePoint().domain(seriesNames).range([1297, 1530]);
let legend = chart.append("g");
seriesNames.forEach((name, i) => {
    legend.append("line")
        .attr("x1", 2264).attr("x2", 2410)
        .attr("y1", legendY(name)).attr("y2", legendY(name))
        .style("stroke", seriesColors[i])
        .style("stroke-width", 5);
    legend.append("text")
        .attr("x", 2426).attr("y", legendY(name) + 20)
        .style("font-size", "60px")
        .text(name);
});
</script>
</body>
</html>
